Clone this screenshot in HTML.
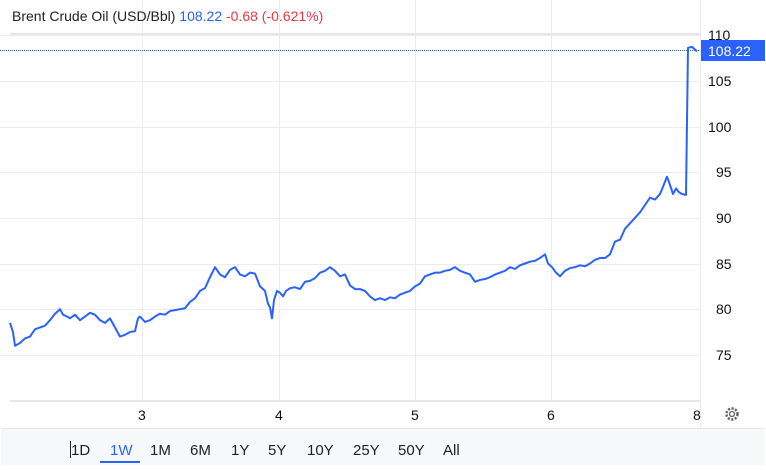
<!DOCTYPE html>
<html><head><meta charset="utf-8"><style>
body{margin:0;width:766px;height:470px;background:#fff;font-family:"Liberation Sans",sans-serif;overflow:hidden}
</style></head><body>
<svg width="766" height="470" xmlns="http://www.w3.org/2000/svg" style="position:absolute;left:0;top:0">
<g stroke="#ececec" stroke-width="1">
<line x1="0" y1="35.5" x2="700" y2="35.5"/><line x1="0" y1="81.5" x2="700" y2="81.5"/>
<line x1="0" y1="127.5" x2="700" y2="127.5"/><line x1="0" y1="172.5" x2="700" y2="172.5"/>
<line x1="0" y1="218.5" x2="700" y2="218.5"/><line x1="0" y1="264.5" x2="700" y2="264.5"/>
<line x1="0" y1="309.5" x2="700" y2="309.5"/><line x1="0" y1="355.5" x2="700" y2="355.5"/>
<line x1="142.5" y1="0" x2="142.5" y2="402"/><line x1="279.5" y1="0" x2="279.5" y2="402"/>
<line x1="415.5" y1="0" x2="415.5" y2="402"/><line x1="551.5" y1="0" x2="551.5" y2="402"/>
<line x1="700.5" y1="0" x2="700.5" y2="428"/>
</g>
<line x1="10" y1="34" x2="700" y2="34" stroke="#e6e6e6" stroke-width="2"/>
<line x1="10" y1="401" x2="700" y2="401" stroke="#e6e6e6" stroke-width="2"/>
<line x1="0" y1="50.5" x2="700" y2="50.5" stroke="#2962ff" stroke-width="1" stroke-dasharray="1,1"/>
<g transform="translate(0,1040.4) scale(1,-9.14)">
<polyline fill="none" stroke="#2962ff" stroke-width="2" vector-effect="non-scaling-stroke" stroke-linejoin="round" points="
10,78.5 13,77.5 15,76 20,76.3 25,76.8 30,77 35,77.8 40,78 45,78.2 50,78.8 55,79.5 60,80 63,79.4 67,79.2 70,79 75,79.4 80,78.8 85,79.2 90,79.6 95,79.4 100,78.8 105,78.5 110,79 115,78 120,77 125,77.2 130,77.5 135,77.6 138,79 140,79.2 145,78.6 150,78.8 155,79.2 160,79.5 165,79.4 170,79.8 175,79.9 180,80 185,80.1 190,80.8 195,81.2 200,82 205,82.3 210,83.5 215,84.6 220,83.8 225,83.5 230,84.3 235,84.6 240,83.8 245,83.6 250,84 255,83.9 260,82.5 265,82 268,80.6 270,80.2 272,79 274,81 277,82 280,81.8 283,81.4 286,82 290,82.3 295,82.4 300,82.2 305,83 310,83.1 315,83.4 320,84 325,84.2 330,84.6 335,84.2 340,83.6 345,83.8 350,82.6 355,82.2 360,82.2 365,82 370,81.4 375,81 380,81.2 385,81 390,81.3 395,81.2 400,81.6 405,81.8 410,82 415,82.5 420,82.8 425,83.6 430,83.8 435,84 440,84 445,84.2 450,84.3 455,84.6 460,84.2 465,84 470,83.8 475,83 480,83.2 485,83.3 490,83.5 495,83.8 500,84 505,84.2 510,84.6 515,84.4 520,84.8 525,85 530,85.2 535,85.3 540,85.6 545,86 548,85 552,84.6 556,84 560,83.6 565,84.2 570,84.5 575,84.6 580,84.8 585,84.7 590,85 595,85.4 600,85.6 605,85.6 610,86 615,87.4 620,87.6 625,88.8 630,89.4 635,90 640,90.6 645,91.4 650,92.2 655,92 660,92.6 663,93.4 667,94.5 670,93.6 673,92.6 676,93.2 679,92.8 682,92.6 686,92.5 688,108.6 692,108.7 697,108.2"/>
</g>
<rect x="701" y="40" width="64" height="21" fill="#2962ff"/>
<g font-size="14" fill="#111">
<text x="708" y="40">110</text>
<text x="708" y="86">105</text>
<text x="708" y="132">100</text>
<text x="716" y="177">95</text>
<text x="716" y="223">90</text>
<text x="716" y="269">85</text>
<text x="716" y="314">80</text>
<text x="716" y="360">75</text>
<text x="138" y="420">3</text>
<text x="275" y="420">4</text>
<text x="411" y="420">5</text>
<text x="547" y="420">6</text>
<text x="693" y="420">8</text>
</g>
<text x="708" y="56" font-size="14" fill="#fff">108.22</text>
<text x="12" y="21" font-size="14" fill="#222">Brent Crude Oil (USD/Bbl) <tspan fill="#2962ff">108.22</tspan>  <tspan fill="#f23645">-0.68 (-0.621%)</tspan></text>
<g transform="translate(732,414)" fill="none" stroke="#666" stroke-width="1.3">
<circle r="2.5"/><circle r="5.5" stroke-dasharray="2.2,1.4" stroke-width="2.5"/>
</g>
<rect x="1" y="429" width="764" height="36" fill="#f7f8fa"/>
<line x1="1" y1="428.5" x2="765" y2="428.5" stroke="#e6e6e6"/>
<g font-size="15" fill="#222">
<text x="71" y="455">1D</text>
<text x="110" y="455" fill="#2962ff">1W</text>
<text x="150" y="455">1M</text>
<text x="190" y="455">6M</text>
<text x="231" y="455">1Y</text>
<text x="268" y="455">5Y</text>
<text x="307" y="455">10Y</text>
<text x="353" y="455">25Y</text>
<text x="398" y="455">50Y</text>
<text x="443" y="455">All</text>
</g>
<line x1="70.5" y1="441" x2="70.5" y2="458" stroke="#222"/>
<rect x="100" y="461" width="40" height="2" fill="#2962ff"/>
</svg>
</body></html>
